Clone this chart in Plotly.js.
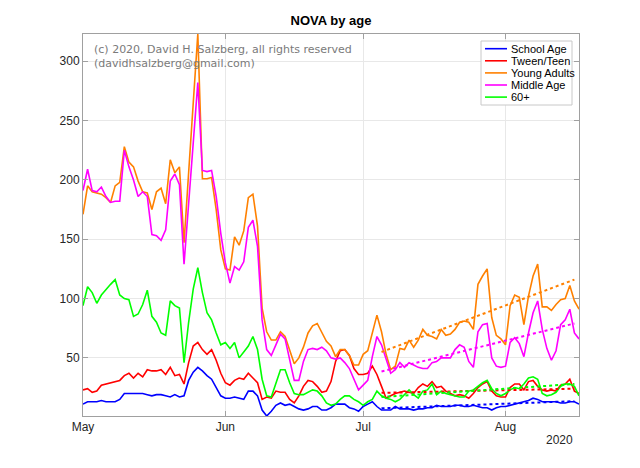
<!DOCTYPE html>
<html>
<head>
<meta charset="utf-8">
<script src="https://cdn.plot.ly/plotly-3.0.1.min.js"></script>
<style>
  body { margin: 0; background: #fff; }
  #chart { width: 640px; height: 468px; }
</style>
</head>
<body>
<div id="chart"></div>
<script>
// daily counts, 2020-05-01 .. 2020-08-17
var startDate = '2020-05-01';

var names = ['School Age', 'Tween/Teen', 'Young Adults', 'Middle Age', '60+'];
var colors = ['#0000ff', '#ff0000', '#ff8000', '#ff00ff', '#00ff00'];

var schoolAge = [
  11, 13, 13, 13, 14, 13, 13, 13, 15, 20,
  20, 20, 20, 20, 19, 18, 19, 19, 18, 17,
  19, 17, 18, 31, 38, 42, 39, 35, 32, 25,
  18, 16, 16, 17, 16, 15, 22, 22, 18, 6,
  1, 5, 10, 12, 10, 11, 9, 7, 6, 7,
  9, 9, 6, 6, 8, 11, 11, 11, 8, 7,
  5, 9, 11, 13, 9, 6, 6, 6, 9, 7,
  7, 7, 6, 7, 7, 8, 8, 10, 9, 9,
  9, 10, 10, 9, 9, 10, 9, 8, 8, 6,
  8, 9, 9, 10, 11, 12, 13, 14, 16, 15,
  13, 13, 13, 13, 12, 12, 13, 13, 11
];
var tweenTeen = [
  23, 24, 21, 22, 27, 28, 29, 30, 31, 35,
  37, 33, 37, 34, 40, 39, 39, 40, 36, 42,
  35, 36, 28, 46, 60, 63, 57, 53, 57, 48,
  37, 29, 27, 31, 33, 32, 37, 33, 29, 15,
  17, 16, 22, 21, 21, 15, 12, 18, 26, 31,
  30, 26, 21, 22, 30, 47, 56, 57, 52, 41,
  36, 36, 37, 43, 36, 26, 16, 18, 20, 21,
  22, 21, 20, 25, 28, 26, 30, 25, 26, 22,
  20, 18, 19, 18, 16, 20, 25, 28, 30, 22,
  18, 17, 17, 25, 28, 28, 23, 30, 31, 26,
  23, 22, 23, 22, 27, 28, 32, 22, 20
];
var youngAdults = [
  171, 195, 190, 189, 188, 185, 181, 195, 198, 228,
  215, 211, 199, 190, 189, 175, 190, 193, 180, 217,
  206, 211, 147, 206, 265, 323, 201, 201, 202, 175,
  141, 125, 124, 152, 145, 157, 185, 188, 161, 92,
  72, 65, 65, 72, 68, 57, 45, 50, 59, 71,
  77, 79, 71, 64, 60, 51, 57, 57, 52, 44,
  44, 53, 56, 70, 86, 72, 53, 40, 43, 58,
  57, 65, 59, 65, 74, 69, 68, 66, 74, 69,
  70, 74, 80, 81, 80, 74, 112, 119, 125, 84,
  69, 66, 61, 94, 103, 101, 78, 102, 119, 129,
  93, 93, 90, 95, 99, 100, 111, 98, 91
];
var middleAge = [
  191, 209, 191, 190, 194, 186, 181, 182, 182, 225,
  211, 200, 186, 190, 186, 154, 153, 149, 158, 199,
  205, 196, 129, 180, 231, 282, 208, 207, 208, 186,
  155, 130, 113, 127, 124, 131, 160, 166, 144, 82,
  57, 52, 61, 70, 66, 48, 31, 31, 47, 57,
  58, 57, 59, 56, 50, 49, 50, 46, 41, 32,
  23, 27, 31, 51, 68, 61, 49, 37, 40, 46,
  42, 46, 44, 42, 41, 41, 46, 47, 50, 50,
  50, 57, 61, 59, 47, 42, 72, 78, 79, 50,
  43, 42, 43, 63, 67, 62, 51, 71, 88, 98,
  74, 58, 48, 56, 78, 82, 91, 71, 66
];
var sixtyPlus = [
  94, 110, 105, 96, 103, 108, 112, 116, 103, 100,
  99, 85, 87, 95, 107, 85, 80, 71, 69, 98,
  94, 92, 46, 80, 108, 126, 105, 88, 82, 71,
  61, 63, 58, 63, 50, 55, 60, 68, 57, 32,
  18, 17, 28, 40, 40, 29, 20, 19, 19, 21,
  23, 22, 18, 12, 10, 11, 15, 18, 18, 15,
  13, 10, 13, 15, 22, 18, 16, 15, 13, 15,
  19, 23, 19, 16, 22, 23, 28, 19, 22, 20,
  19, 18, 17, 17, 22, 23, 26, 29, 31, 24,
  20, 18, 20, 23, 25, 24, 28, 33, 34, 32,
  20, 18, 19, 21, 26, 28, 28, 26, 18
];

// trend lines (start / end values)
var trendDates = ['2020-07-05', '2020-08-16'];
var trendStart = [7.5, 20.5, 55, 38.5, 17];
var trendEnd = [13.5, 24, 116, 79, 28];

var tickVals = ['2020-05-01', '2020-06-01', '2020-07-01', '2020-08-01'];
var tickText = ['May', 'Jun', 'Jul', 'Aug'];
var yTicks = [50, 100, 150, 200, 250, 300];

var series = [schoolAge, tweenTeen, youngAdults, middleAge, sixtyPlus];

var dates = [];
var d0 = new Date(startDate + 'T00:00:00Z');
for (var i = 0; i < schoolAge.length; i++) {
  var d = new Date(d0.getTime() + i * 86400000);
  dates.push(d.toISOString().slice(0, 10));
}

var data = [];
series.forEach(function(s, k) {
  data.push({
    x: dates, y: s, type: 'scatter', mode: 'lines', name: names[k],
    line: {color: colors[k], width: 1.6}, showlegend: false
  });
});
series.forEach(function(s, k) {
  data.push({
    x: trendDates, y: [trendStart[k], trendEnd[k]], type: 'scatter', mode: 'lines',
    line: {color: colors[k], width: 2, dash: 'dot'}, showlegend: false, hoverinfo: 'skip'
  });
});

var all = [].concat.apply([], series);
var yMin = Math.min.apply(null, all);
var yMax = Math.max.apply(null, all);

// plot box in pixels
var plotL = 83, plotR = 579, plotT = 34, plotB = 416;
function px(x) { return (x - plotL) / (plotR - plotL); }
function py(y) { return (plotB - y) / (plotB - plotT); }

var font = 'Liberation Sans, Arial, sans-serif';
var shapes = [];
var annotations = [];

// legend box
shapes.push({type: 'rect', xref: 'paper', yref: 'paper',
  x0: px(481), x1: px(572), y0: py(105), y1: py(41),
  fillcolor: '#ffffff', line: {color: '#c8c8c8', width: 1}, layer: 'above'});
names.forEach(function(n, k) {
  var yy = 48.7 + k * 12.1;
  shapes.push({type: 'line', xref: 'paper', yref: 'paper',
    x0: px(485), x1: px(507), y0: py(yy), y1: py(yy),
    line: {color: colors[k], width: 1.6}, layer: 'above'});
  annotations.push({xref: 'paper', yref: 'paper', x: px(509), y: py(yy),
    xanchor: 'left', yanchor: 'middle', showarrow: false, text: n,
    font: {family: font, size: 11, color: '#000'}});
});

annotations.push({xref: 'paper', yref: 'paper', x: px(92), y: py(41),
  xanchor: 'left', yanchor: 'top', align: 'left', showarrow: false,
  text: '(c) 2020, David H. Salzberg, all rights reserved<br>(davidhsalzberg@gmail.com)',
  font: {family: 'DejaVu Sans, sans-serif', size: 11, color: '#7a7a7a'}});

annotations.push({xref: 'paper', yref: 'paper', x: px(559), y: py(440),
  xanchor: 'center', yanchor: 'middle', showarrow: false, text: '2020',
  font: {family: font, size: 12, color: '#262626'}});

var layout = {
  width: 640, height: 468,
  margin: {l: plotL, r: 640 - plotR, t: plotT, b: 468 - plotB},
  paper_bgcolor: '#ffffff', plot_bgcolor: '#ffffff',
  title: {text: '<b>NOVA by age</b>', x: 0.5, xref: 'paper', y: 1 - 20 / 468, yanchor: 'middle',
    font: {family: font, size: 13, color: '#000'}},
  xaxis: {
    type: 'date', range: [dates[0], dates[dates.length - 1]],
    tickvals: tickVals, ticktext: tickText,
    showgrid: true, gridcolor: '#e8e8e8', zeroline: false,
    showline: true, linecolor: '#a0a0a0', linewidth: 1, mirror: 'ticks',
    ticks: 'inside', ticklen: 5, tickcolor: '#a0a0a0',
    tickfont: {family: font, size: 12, color: '#262626'}
  },
  yaxis: {
    range: [yMin, yMax], tickvals: yTicks,
    showgrid: true, gridcolor: '#e8e8e8', zeroline: false,
    showline: true, linecolor: '#a0a0a0', linewidth: 1, mirror: 'ticks',
    ticks: 'inside', ticklen: 5, tickcolor: '#a0a0a0',
    tickfont: {family: font, size: 12, color: '#262626'}
  },
  shapes: shapes,
  annotations: annotations,
  showlegend: false
};

Plotly.newPlot(document.getElementById('chart'), data, layout, {displayModeBar: false, staticPlot: true});
</script>
</body>
</html>
